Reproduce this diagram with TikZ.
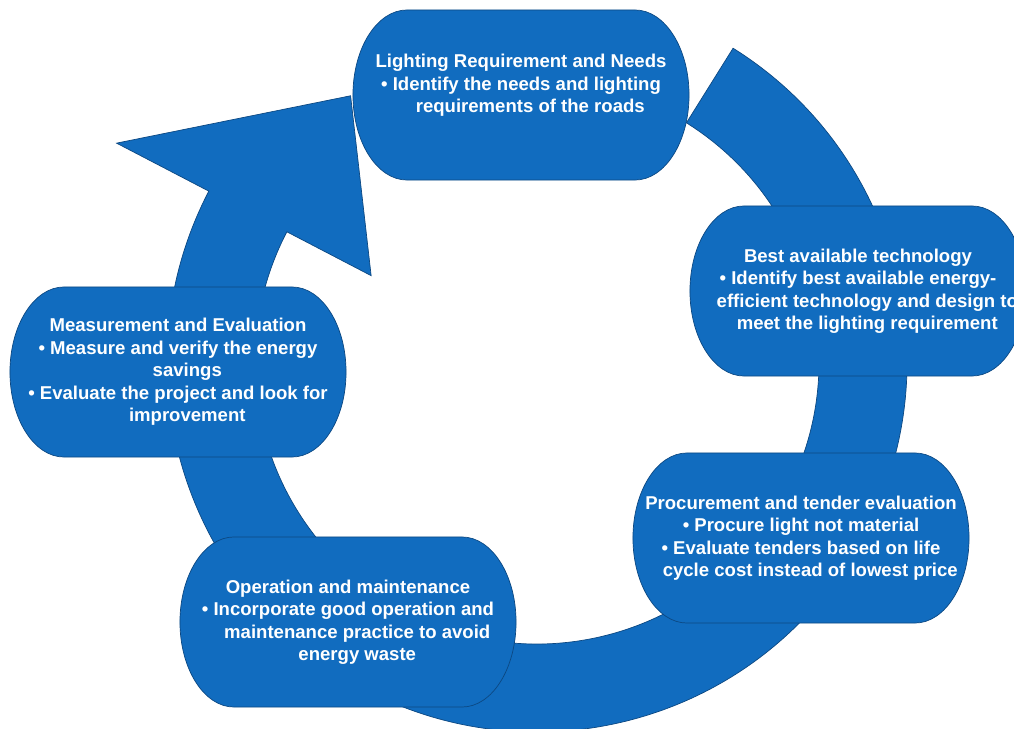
\documentclass[tikz,border=0pt]{standalone}
\usepackage{fontspec}
\setmainfont{Liberation Sans}
\usetikzlibrary{calc,backgrounds}
\definecolor{cycleblue}{RGB}{17,108,191}
\definecolor{cycleedge}{RGB}{12,72,130}
\newcommand{\wrapin}{\hspace*{1em}}

\begin{document}
\begin{tikzpicture}[x=0.025cm,y=0.025cm]
  \tikzset{
    phase/.style={text=white,font=\fontsize{13.2}{16}\selectfont\bfseries,align=center,
      minimum width=8.4cm,minimum height=4.25cm,inner sep=0pt,outer sep=0pt},
    bluefill/.style={fill=cycleblue,draw=cycleedge,line width=0.5pt}
  }
  \useasboundingbox (0,-729) rectangle (1014,0);
  \coordinate (c) at (537,-362);
  % the five phases
  \node[phase] (need) at (521,-95) {Lighting Requirement and Needs\\ • Identify the needs and lighting\\ \wrapin requirements of the roads\\ \mbox{}};
  \node[phase] (tech) at (858,-291) {Best available technology\\ • Identify best available energy-\\ \wrapin efficient technology and design to\\ \wrapin meet the lighting requirement};
  \node[phase] (buy) at (801,-538) {Procurement and tender evaluation\\ • Procure light not material\\ • Evaluate tenders based on life\\ \wrapin cycle cost instead of lowest price};
  \node[phase] (run) at (348,-622) {Operation and maintenance\\ • Incorporate good operation and\\ \wrapin maintenance practice to avoid\\ \wrapin energy waste};
  \node[phase] (check) at (178,-372) {Measurement and Evaluation\\ • Measure and verify the energy\\ \wrapin savings\\ • Evaluate the project and look for\\ \wrapin improvement};
  \begin{scope}[on background layer]
    % circular arrow
    \draw[bluefill] ($(c)+(58:370)$) arc[start angle=58,end angle=-207.5,radius=370]
      -- ($(c)+(152.5:474)$) -- ($(c)+(125:325)$) -- ($(c)+(152.5:187)$)
      -- ($(c)+(152.5:282)$) arc[start angle=-207.5,end angle=58,radius=282] -- cycle;
    % terminator shapes behind the texts
    \foreach \n in {need,tech,buy,run,check}
      \draw[bluefill] ([xshift=1.35cm]\n.north west) -- ([xshift=-1.35cm]\n.north east)
        arc[start angle=90,end angle=-90,x radius=1.35cm,y radius=2.125cm]
        -- ([xshift=1.35cm]\n.south west)
        arc[start angle=270,end angle=90,x radius=1.35cm,y radius=2.125cm] -- cycle;
  \end{scope}
\end{tikzpicture}
\end{document}
